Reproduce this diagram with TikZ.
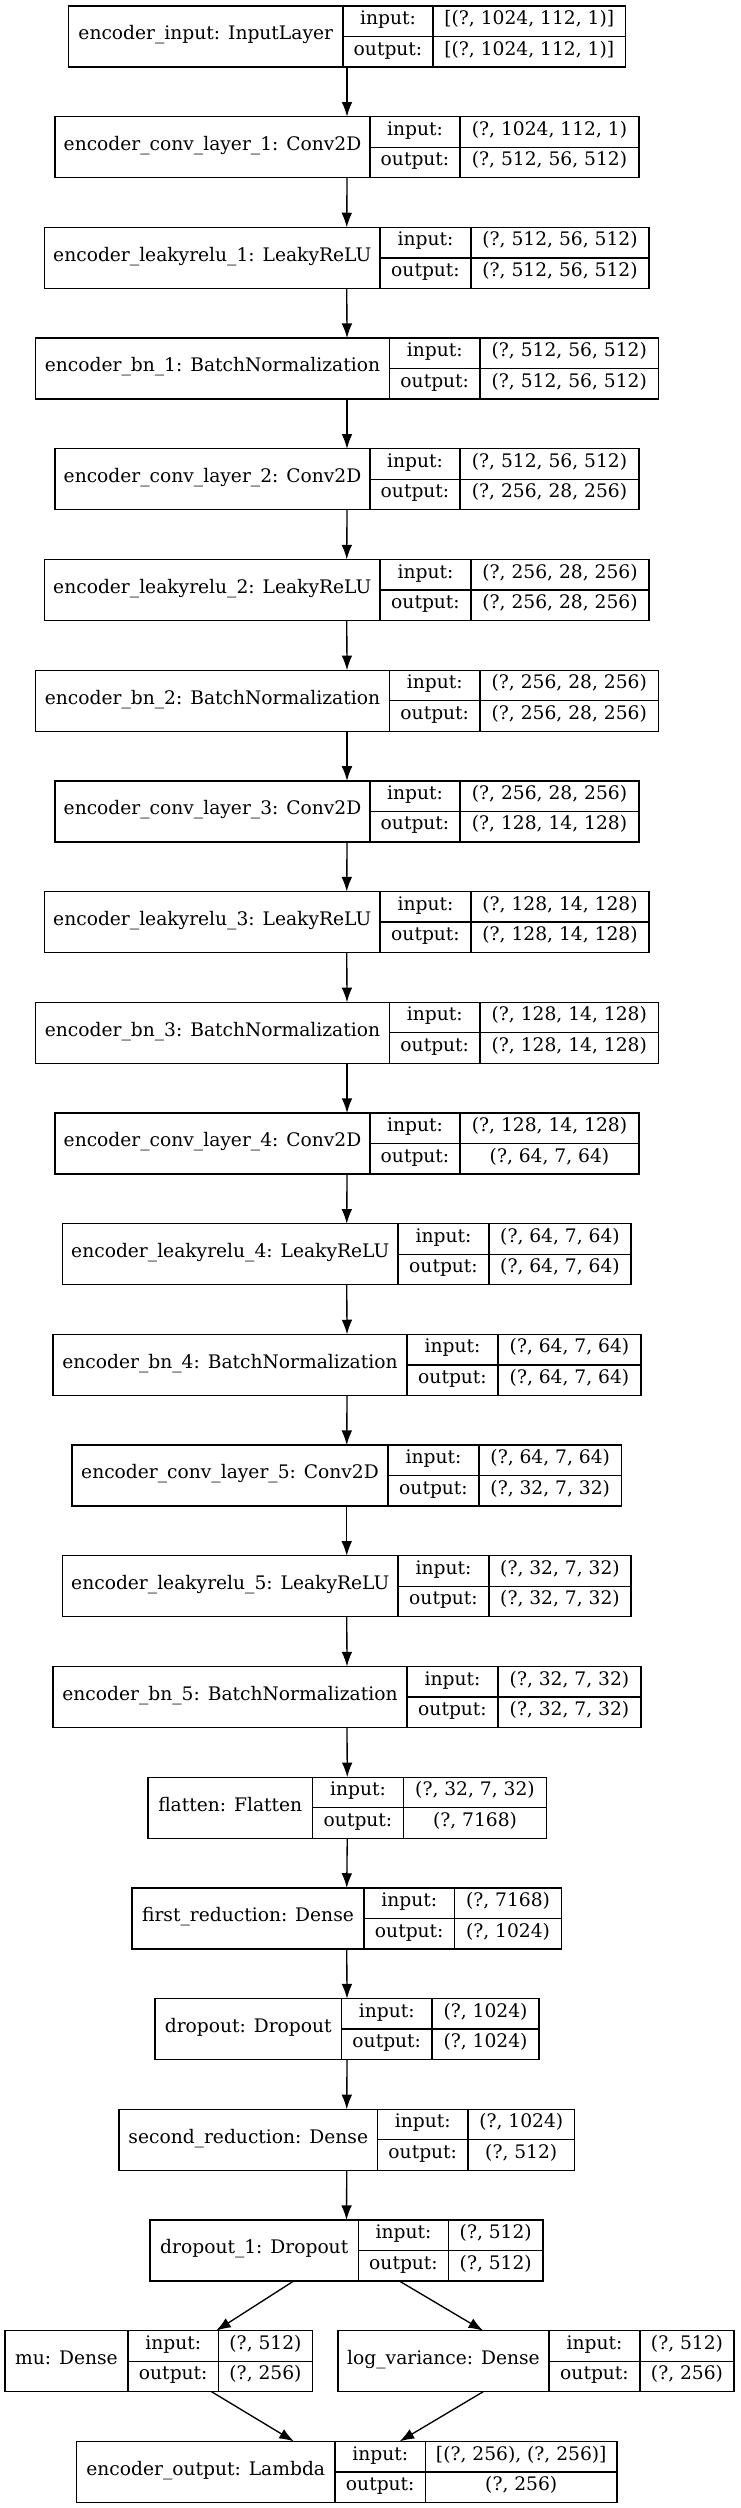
\documentclass[tikz,border=0pt]{standalone}
\usepackage{fontspec}
\setmainfont{DejaVu Serif}
\usetikzlibrary{arrows.meta}

% one keras record: id, top, x0, x1, x2, x3, name, input, output
\newcommand{\layerbox}[9]{%
	\node[layer, minimum width={(#6-#3)*0.75pt}] (#1) at ({(#3+#6)/2},{#2+30.5}) {};
	\draw[cell] (#4,#2) -- (#4,{#2+61});
	\draw[cell] (#5,#2) -- (#5,{#2+61});
	\draw[cell] (#4,{#2+30.5}) -- (#6,{#2+30.5});
	\node[lbl] (#1-n) at ({(#3+#4)/2},{#2+30.5}) {#7};
	\node[lbl] (#1-i) at ({(#4+#5)/2},{#2+15.25}) {input:};
	\node[lbl] (#1-o) at ({(#4+#5)/2},{#2+45.75}) {output:};
	\node[lbl] (#1-iv) at ({(#5+#6)/2},{#2+15.25}) {#8};
	\node[lbl] (#1-ov) at ({(#5+#6)/2},{#2+45.75}) {#9};
}

\begin{document}
\begin{tikzpicture}[x=0.75pt, y=-0.75pt,
		layer/.style={draw, line width=1pt, inner sep=0pt, outer sep=0pt, minimum height=45.75pt},
		cell/.style={line width=1pt},
		lbl/.style={inner sep=0pt, text height=0.75em, text depth=0.25em, font=\fontsize{14}{17}\selectfont},
		edge/.style={line width=1pt, -{Latex[length=11pt, width=8pt]}}]
	\useasboundingbox (0,0) rectangle (741,2508);

	\layerbox{inp}{6}{68.5}{343}{433}{625.5}{encoder\_input: InputLayer}{[(?, 1024, 112, 1)]}{[(?, 1024, 112, 1)]}
	\layerbox{conv1}{116.7}{55}{370}{460}{639}{encoder\_conv\_layer\_1: Conv2D}{(?, 1024, 112, 1)}{(?, 512, 56, 512)}
	\layerbox{lrelu1}{227.4}{44.5}{380}{471}{649}{encoder\_leakyrelu\_1: LeakyReLU}{(?, 512, 56, 512)}{(?, 512, 56, 512)}
	\layerbox{bn1}{338.1}{35.5}{389.5}{480}{658.5}{encoder\_bn\_1: BatchNormalization}{(?, 512, 56, 512)}{(?, 512, 56, 512)}
	\layerbox{conv2}{448.8}{55}{370}{460}{639}{encoder\_conv\_layer\_2: Conv2D}{(?, 512, 56, 512)}{(?, 256, 28, 256)}
	\layerbox{lrelu2}{559.5}{44.5}{380}{471}{649}{encoder\_leakyrelu\_2: LeakyReLU}{(?, 256, 28, 256)}{(?, 256, 28, 256)}
	\layerbox{bn2}{670.2}{35.5}{389.5}{480}{658.5}{encoder\_bn\_2: BatchNormalization}{(?, 256, 28, 256)}{(?, 256, 28, 256)}
	\layerbox{conv3}{780.9}{55}{370}{460}{639}{encoder\_conv\_layer\_3: Conv2D}{(?, 256, 28, 256)}{(?, 128, 14, 128)}
	\layerbox{lrelu3}{891.6}{44.5}{380}{471}{649}{encoder\_leakyrelu\_3: LeakyReLU}{(?, 128, 14, 128)}{(?, 128, 14, 128)}
	\layerbox{bn3}{1002.3}{35.5}{389.5}{480}{658.5}{encoder\_bn\_3: BatchNormalization}{(?, 128, 14, 128)}{(?, 128, 14, 128)}
	\layerbox{conv4}{1113}{55}{370}{460}{639}{encoder\_conv\_layer\_4: Conv2D}{(?, 128, 14, 128)}{(?, 64, 7, 64)}
	\layerbox{lrelu4}{1223.7}{62.5}{398}{489}{631}{encoder\_leakyrelu\_4: LeakyReLU}{(?, 64, 7, 64)}{(?, 64, 7, 64)}
	\layerbox{bn4}{1334.4}{53}{407}{498}{641}{encoder\_bn\_4: BatchNormalization}{(?, 64, 7, 64)}{(?, 64, 7, 64)}
	\layerbox{conv5}{1445.1}{72}{388}{479}{621.5}{encoder\_conv\_layer\_5: Conv2D}{(?, 64, 7, 64)}{(?, 32, 7, 32)}
	\layerbox{lrelu5}{1555.8}{62.5}{398}{489}{631}{encoder\_leakyrelu\_5: LeakyReLU}{(?, 32, 7, 32)}{(?, 32, 7, 32)}
	\layerbox{bn5}{1666.5}{53}{407}{498}{641}{encoder\_bn\_5: BatchNormalization}{(?, 32, 7, 32)}{(?, 32, 7, 32)}
	\layerbox{flat}{1777.2}{148}{312.5}{403.5}{546.5}{flatten: Flatten}{(?, 32, 7, 32)}{(?, 7168)}
	\layerbox{red1}{1887.9}{132}{364}{454.5}{561.5}{first\_reduction: Dense}{(?, 7168)}{(?, 1024)}
	\layerbox{drop}{1998.6}{155}{341.5}{432}{539}{dropout: Dropout}{(?, 1024)}{(?, 1024)}
	\layerbox{red2}{2109.3}{119}{377.5}{468}{574.5}{second\_reduction: Dense}{(?, 1024)}{(?, 512)}
	\layerbox{drop1}{2220}{150}{358.5}{448.5}{543}{dropout\_1: Dropout}{(?, 512)}{(?, 512)}
	\layerbox{mu}{2330.7}{5}{128}{218.5}{312.5}{mu: Dense}{(?, 512)}{(?, 256)}
	\layerbox{logvar}{2330.7}{338}{549}{640}{734}{log\_variance: Dense}{(?, 512)}{(?, 256)}
	\layerbox{out}{2441.4}{76.5}{335}{425.5}{617}{encoder\_output: Lambda}{[(?, 256), (?, 256)]}{(?, 256)}

	% straight chain
	\foreach \a/\b in {inp/conv1, conv1/lrelu1, lrelu1/bn1, bn1/conv2, conv2/lrelu2, lrelu2/bn2,
		bn2/conv3, conv3/lrelu3, lrelu3/bn3, bn3/conv4, conv4/lrelu4, lrelu4/bn4, bn4/conv5,
		conv5/lrelu5, lrelu5/bn5, bn5/flat, flat/red1, red1/drop, drop/red2, red2/drop1}
		\draw[edge] (\a.south) -- (\b.north);

	% split and merge
	\draw[edge] (drop1.210) -- (mu.28);
	\draw[edge] (drop1.330) -- (logvar.150);
	\draw[edge] (mu.330) -- (out.150);
	\draw[edge] (logvar.210) -- (out.30);
\end{tikzpicture}
\end{document}
